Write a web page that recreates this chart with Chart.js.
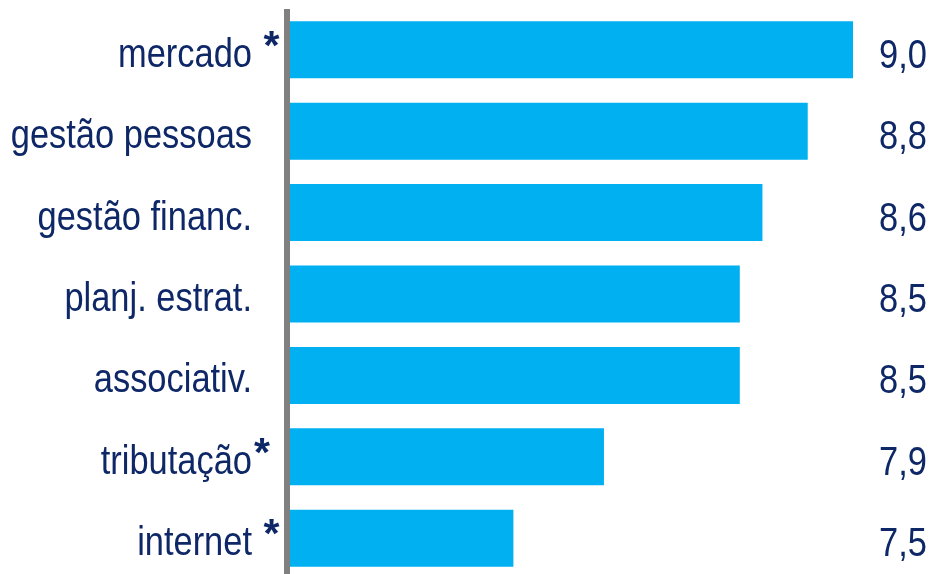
<!DOCTYPE html>
<html>
<head>
<meta charset="utf-8">
<script src="https://cdn.jsdelivr.net/npm/chart.js@4/dist/chart.umd.min.js"></script>
<style>
  html, body { margin: 0; padding: 0; background: #fff; overflow: hidden; }
  #wrap { width: 933px; height: 574px; overflow: hidden; position: relative; }
  canvas { display: block; }
</style>
</head>
<body>
<div id="wrap"><canvas id="c" width="933" height="579"></canvas></div>
<script>
const categories = ["mercado *", "gestão pessoas", "gestão financ.", "planj. estrat.", "associativ.", "tributação*", "internet *"];
const scores = [9.0, 8.8, 8.6, 8.5, 8.5, 7.9, 7.5];
const axisMin = 6.5;
const axisMax = 9.0;

const FONT = "41px 'Liberation Sans Narrow', 'Arial Narrow', 'Liberation Sans', sans-serif";
const TEXT = "#0e2766";
const SX = 0.84; // horizontal condensing to imitate a narrow face

function drawNarrow(ctx, t, x, y, align) {
  ctx.save();
  ctx.translate(x, y);
  ctx.scale(SX, 1);
  ctx.textAlign = align;
  ctx.textBaseline = 'alphabetic';
  ctx.fillText(t, 0, 0);
  ctx.restore();
}

const axisLinePlugin = {
  id: 'axisLine',
  afterDatasetsDraw(chart) {
    const { ctx, chartArea } = chart;
    ctx.save();
    ctx.fillStyle = '#808080';
    ctx.fillRect(chartArea.left - 3, chartArea.top, 6, chartArea.bottom - chartArea.top);
    ctx.restore();
  }
};

const labelPlugin = {
  id: 'labels',
  afterDraw(chart) {
    const { ctx, chartArea } = chart;
    const yScale = chart.scales.y;
    ctx.save();
    ctx.font = FONT;
    ctx.fillStyle = TEXT;
    chart.data.labels.forEach((lab, i) => {
      const yc = yScale.getPixelForValue(i);
      const base = yc + 17;
      let txt = lab, star = false;
      if (lab.endsWith('*')) { star = true; txt = lab.slice(0, -1); }
      const main = txt.trimEnd();
      const rightX = chartArea.left - 35;
      drawNarrow(ctx, main, rightX, base, 'right');
      if (star) {
        const gap = (ctx.measureText(txt).width - ctx.measureText(main).width) * SX;
        ctx.save();
        ctx.font = "bold 41px 'Liberation Sans', sans-serif";
        ctx.textAlign = 'left';
        ctx.textBaseline = 'alphabetic';
        ctx.fillText('*', rightX + gap + 2, base - 8);
        ctx.restore();
      }
      const v = chart.data.datasets[0].data[i];
      drawNarrow(ctx, v.toFixed(1).replace('.', ','), chart.width - 6, yc + 18, 'right');
    });
    ctx.restore();
  }
};

new Chart(document.getElementById('c'), {
  type: 'bar',
  data: {
    labels: categories,
    datasets: [{
      data: scores,
      backgroundColor: '#00b0f0',
      borderWidth: 0,
      barPercentage: 0.7,
      categoryPercentage: 1.0
    }]
  },
  options: {
    indexAxis: 'y',
    responsive: false,
    animation: false,
    devicePixelRatio: 1,
    layout: { padding: { left: 287, right: 80, top: 9, bottom: 0 } },
    plugins: { legend: { display: false }, tooltip: { enabled: false } },
    scales: {
      x: { min: axisMin, max: axisMax, display: false },
      y: { display: false, offset: true }
    }
  },
  plugins: [axisLinePlugin, labelPlugin]
});
</script>
</body>
</html>
